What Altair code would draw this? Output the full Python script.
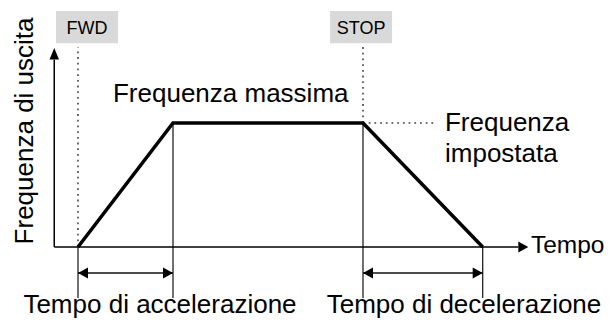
import altair as alt
import pandas as pd

# ---------------- data ----------------
# speed profile (time in s, output frequency in Hz)
profile_time = [0, 10, 30, 42.6]
profile_freq = [0, 50, 50, 0]
f_max = 50

# axes extents (data units)
axis_t_start = -2.5
axis_t_tip = 47.4
axis_f_tip = 80.2

# command events (FWD / STOP)
event_names = ["FWD", "STOP"]
event_times = [0, 30]
event_box_t = [0.95, 29.8]
event_box_f = 88.7
event_dot_top = 80.6
set_freq_dot_end = 37.4

# dimension (time span) arrows
span_starts = [0, 30]
span_ends = [10, 42.6]
span_f = -10.5
ext_bottom_f = -20.6

# text annotations
ann_text = ["Frequenza massima", "Frequenza", "impostata"]
ann_t = [3.68, 38.63, 38.63]
ann_f = [58.47, 46.77, 34.27]
x_title = "Tempo"
x_title_t = 47.68
x_title_f = -2.42
span_labels = ["Tempo di accelerazione", "Tempo di decelerazione"]
span_label_t = [8.63, 40.63]
span_label_f = -26.6
y_title = "Frequenza di uscita"
y_title_t = -4.74
y_title_f = 46.8

# ---------------- scales ----------------
PX_T = 9.5    # px per s
PX_F = 2.48   # px per Hz
W, H = 598, 311
T_DOM = [-70 / PX_T, (W - 70) / PX_T]
F_DOM = [(239 - H) / PX_F, 239 / PX_F]

FONT = "Liberation Sans"


def X(field="t"):
    return alt.X(f"{field}:Q", scale=alt.Scale(domain=T_DOM, nice=False, zero=False), axis=None)


def Y(field="f"):
    return alt.Y(f"{field}:Q", scale=alt.Scale(domain=F_DOM, nice=False, zero=False), axis=None)


# arrow head paths (tip at origin)
R = 5
UP = "M0,0L0.95,2.3L-0.95,2.3Z"
RIGHT = "M0,0L-2,-1.1L-2,1.1Z"
LEFT = "M0,0L2,-1.1L2,1.1Z"
BOX = "M-1,-0.52L1,-0.52L1,0.52L-1,0.52Z"

# ---------------- tables ----------------
profile = pd.DataFrame({"t": profile_time, "f": profile_freq, "o": range(len(profile_time))})

head_len_t = 10 / PX_T
head_len_f = 11.5 / PX_F
axes = pd.DataFrame({
    "t": [axis_t_start, axis_t_start],
    "t2": [axis_t_tip - head_len_t, axis_t_start],
    "f": [0, 0],
    "f2": [0, axis_f_tip - head_len_f],
})

solid_thin = pd.DataFrame({
    "t": profile_time,
    "t2": profile_time,
    "f": profile_freq,
    "f2": [ext_bottom_f] * 4,
})
spans = pd.DataFrame({"t": span_starts, "t2": span_ends, "f": [span_f] * 2, "f2": [span_f] * 2})

dotted = pd.DataFrame({
    "t": [event_times[0], event_times[1], event_times[1]],
    "t2": [event_times[0], event_times[1], set_freq_dot_end],
    "f": [0, f_max, f_max],
    "f2": [event_dot_top, event_dot_top, f_max],
})

heads_right = pd.DataFrame({"t": [axis_t_tip] + span_ends, "f": [0, span_f, span_f]})
heads_left = pd.DataFrame({"t": span_starts, "f": [span_f, span_f]})
heads_up = pd.DataFrame({"t": [axis_t_start], "f": [axis_f_tip]})

boxes = pd.DataFrame({"t": event_box_t, "f": [event_box_f] * 2, "name": event_names})
ann = pd.DataFrame({"t": ann_t, "f": ann_f, "text": ann_text})
xtitle = pd.DataFrame({"t": [x_title_t], "f": [x_title_f], "text": [x_title]})
span_txt = pd.DataFrame({"t": span_label_t, "f": [span_label_f] * 2, "text": span_labels})
ytitle = pd.DataFrame({"t": [y_title_t], "f": [y_title_f], "text": [y_title]})

# ---------------- layers ----------------
def rules(df, **kw):
    return alt.Chart(df).mark_rule(**kw).encode(x=X(), x2="t2:Q", y=Y(), y2="f2:Q")


def heads(df, shape, size):
    return alt.Chart(df).mark_point(shape=shape, size=size, filled=True, color="black",
                                    opacity=1, strokeWidth=0).encode(x=X(), y=Y())


def texts(df, size, align, **kw):
    return alt.Chart(df).mark_text(font=FONT, fontSize=size, color="black", align=align,
                                   baseline="alphabetic", **kw).encode(x=X(), y=Y(), text="text:N")


layers = [
    rules(dotted, color="#444444", strokeWidth=1.6, strokeDash=[1.8, 3.9]),
    rules(solid_thin, color="#222222", strokeWidth=1.3),
    rules(spans, color="#111111", strokeWidth=1.5),
    rules(axes, color="black", strokeWidth=1.5),
    alt.Chart(profile).mark_line(color="black", strokeWidth=3.5, strokeJoin="miter").encode(
        x=X(), y=Y(), order="o:O"),
    heads(heads_right, RIGHT, (2 * R) ** 2),
    heads(heads_left, LEFT, (2 * R) ** 2),
    heads(heads_up, UP, (2 * R) ** 2),
    alt.Chart(boxes).mark_point(shape=BOX, size=62 ** 2, filled=True, color="#d9d9d9",
                                opacity=1, strokeWidth=0).encode(x=X(), y=Y()),
    alt.Chart(boxes).mark_text(font=FONT, fontSize=18, color="black", align="center",
                               baseline="alphabetic", dy=6.5).encode(x=X(), y=Y(), text="name:N"),
    texts(ann, 26, "left"),
    texts(xtitle, 24.5, "left"),
    texts(span_txt, 26, "center"),
    texts(ytitle, 26, "center", angle=270),
]

chart = alt.layer(*layers).properties(
    width=W, height=H, autosize=alt.AutoSizeParams(type="none"), padding=0,
    background="white",
).configure_view(stroke=None)

chart.save("out.html", embed_options={"renderer": "svg", "actions": False})
